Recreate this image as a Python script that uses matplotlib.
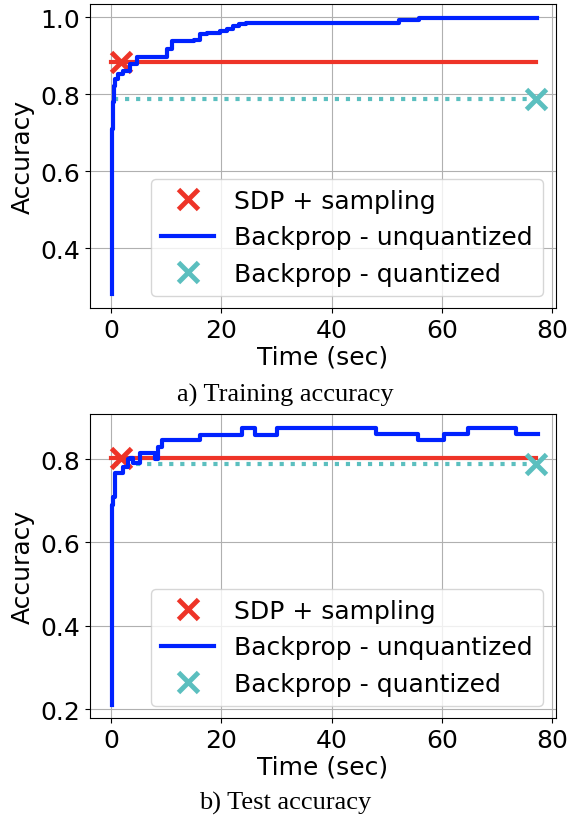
import matplotlib
matplotlib.use("Agg")
import matplotlib.pyplot as plt

# training accuracy, backprop (unquantized), step curve
train_t = [0.1, 0.15, 0.2, 0.3, 0.5, 0.8, 1.3, 2.2, 3.5, 4.7, 8.9, 10.2, 11.0,
           15.0, 16.2, 17.5, 19.8, 21.0, 22.2, 23.3, 24.4, 52.2, 55.8, 77.3]
train_acc = [0.28, 0.62, 0.71, 0.78, 0.82, 0.84, 0.852, 0.86, 0.878, 0.896, 0.897,
             0.917, 0.938, 0.94, 0.956, 0.96, 0.964, 0.97, 0.977, 0.982, 0.985,
             0.992, 0.998, 0.998]

# test accuracy, backprop (unquantized)
test_t = [0.1, 0.2, 0.25, 0.3, 0.73, 2.2, 3.0, 3.45, 4.06, 4.7, 5.3, 8.0, 8.6, 9.2,
          16.2, 23.8, 26.2, 30.1, 48.0, 55.6, 60.4, 64.7, 73.5, 77.4]
test_acc = [0.21, 0.51, 0.69, 0.71, 0.767, 0.782, 0.80, 0.803, 0.79, 0.79, 0.815,
            0.80, 0.83, 0.845, 0.858, 0.875, 0.858, 0.875, 0.859, 0.845, 0.859,
            0.875, 0.859, 0.859]

t_end = 77.0
sdp_time = 1.8
sdp_train, sdp_test = 0.883, 0.802
quant_train, quant_test = 0.787, 0.789

RED = "#ee3428"
BLUE = "#0022ff"
TEAL = "#5bbfbf"

plt.rcParams["font.family"] = ["DejaVu Sans"]
plt.rcParams["font.size"] = 18

fig = plt.figure(figsize=(5.71, 8.2), dpi=100)
ax1 = fig.add_axes([90 / 571, 1 - 309.3 / 820, 465.5 / 571, 304.3 / 820])
ax2 = fig.add_axes([90 / 571, 1 - 719.3 / 820, 465.5 / 571, 304.3 / 820])


def draw(ax, t, acc, sdp, quant):
    ax.grid(True, color="#b0b0b0", linewidth=0.8)
    ax.set_axisbelow(True)
    ax.plot([0, t_end], [sdp, sdp], color=RED, lw=3)
    ax.plot([0.5, t_end], [quant, quant], color=TEAL, lw=3, ls=":")
    ax.plot(sdp_time, sdp, "x", color=RED, ms=14, mew=3.5, label="SDP + sampling")
    ax.step(t, acc, where="post", color=BLUE, lw=3, label="Backprop - unquantized")
    ax.plot(t_end, quant, "x", color=TEAL, ms=14, mew=3.5, label="Backprop - quantized")
    ax.set_xlim(-3.8, 80.6)
    ax.set_xticks([0, 20, 40, 60, 80])
    ax.set_xlabel("Time (sec)", labelpad=2)
    ax.set_ylabel("Accuracy")
    ax.legend(loc="lower right", fontsize=18, handlelength=2.15)


draw(ax1, train_t, train_acc, sdp_train, quant_train)
ax1.set_ylim(0.244, 1.034)
ax1.set_yticks([0.4, 0.6, 0.8, 1.0])

draw(ax2, test_t, test_acc, sdp_test, quant_test)
ax2.set_ylim(0.178, 0.908)
ax2.set_yticks([0.2, 0.4, 0.6, 0.8])

fig.text(0.5, 1 - 395 / 820, "a) Training accuracy", ha="center", va="center",
         family="Liberation Serif", fontsize=19)
fig.text(0.5, 1 - 803 / 820, "b) Test accuracy", ha="center", va="center",
         family="Liberation Serif", fontsize=19)

fig.savefig("out.png", dpi=100)
